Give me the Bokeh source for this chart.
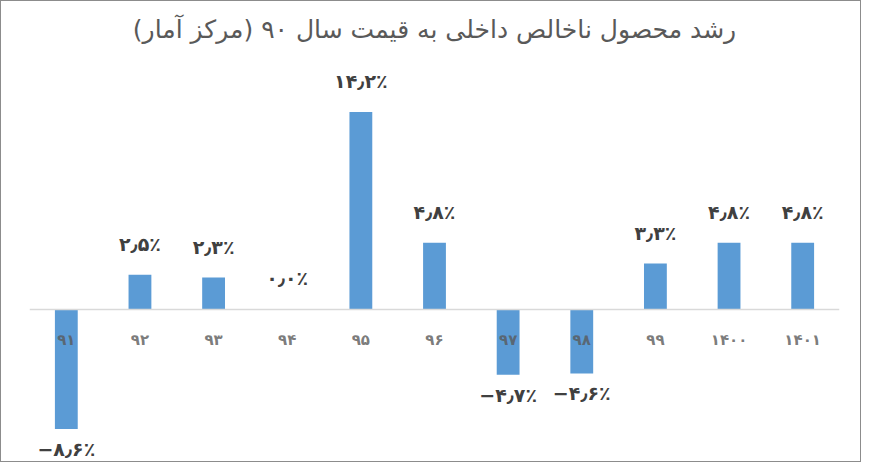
from bokeh.plotting import figure
from bokeh.models import ColumnDataSource, Span, Range1d
from bokeh.embed import file_html
from bokeh.resources import INLINE
from bokeh.core.properties import value

# ---- data ----
years = ["۹۱", "۹۲", "۹۳", "۹۴", "۹۵", "۹۶", "۹۷", "۹۸", "۹۹", "۱۴۰۰", "۱۴۰۱"]
growth = [-8.6, 2.5, 2.3, 0.0, 14.2, 4.8, -4.7, -4.6, 3.3, 4.8, 4.8]
title_text = "رشد محصول ناخالص داخلی به قیمت سال ۹۰ (مرکز آمار)"

FA_DIGITS = str.maketrans("0123456789", "۰۱۲۳۴۵۶۷۸۹")


def fa_label(v):
    s = f"{abs(v):.1f}".translate(FA_DIGITS).replace(".", "٫") + "٪"
    return ("−" if v < 0 else "") + s


labels = [fa_label(v) for v in growth]
pos_idx = [i for i, v in enumerate(growth) if v >= 0]
neg_idx = [i for i, v in enumerate(growth) if v < 0]

src = ColumnDataSource(dict(x=years, top=growth, zero=[0] * len(years), lab=labels))
src_pos = ColumnDataSource(dict(x=[years[i] for i in pos_idx],
                                y=[growth[i] for i in pos_idx],
                                lab=[labels[i] for i in pos_idx]))
src_neg = ColumnDataSource(dict(x=[years[i] for i in neg_idx],
                                y=[growth[i] for i in neg_idx],
                                lab=[labels[i] for i in neg_idx]))

FONT = "DejaVu Sans"

p = figure(width=861, height=462, x_range=years, y_range=Range1d(-11.08, 18.56),
           output_backend="svg", toolbar_location=None,
           min_border_left=28, min_border_right=23, min_border_bottom=0,
           min_border_top=50)
p.styles = {"border": "1px solid #8c8c8c"}

p.title.text = title_text + "\u200f"
p.title.align = "center"
p.title.text_font = FONT
p.title.text_font_size = "25px"
p.title.text_font_style = "normal"
p.title.text_color = "#595959"
p.title.standoff = 15

p.axis.visible = False
p.grid.visible = False
p.outline_line_color = None
p.background_fill_color = "white"
p.border_fill_color = "white"

p.add_layout(Span(location=0, dimension="width", line_color="#d9d9d9", line_width=1.5))

p.vbar(x="x", top="top", bottom=0, width=0.31, source=src,
       fill_color="#5b9bd5", line_color=None)

# category labels just below the zero line
p.text(x="x", y="zero", text="x", source=src, text_font=value(FONT),
       text_font_size="15px", text_font_style="bold", text_color="#595959",
       text_align="center", text_baseline="middle", y_offset=31, text_alpha=0.8)

# value labels
p.text(x="x", y="y", text="lab", source=src_pos, text_font=value(FONT),
       text_font_size="19px", text_font_style="bold", text_color="#404040",
       text_align="center", text_baseline="middle", y_offset=-31)
p.text(x="x", y="y", text="lab", source=src_neg, text_font=value(FONT),
       text_font_size="19px", text_font_style="bold", text_color="#404040",
       text_align="center", text_baseline="middle", y_offset=20)

open("out.html", "w").write(file_html(p, INLINE))
